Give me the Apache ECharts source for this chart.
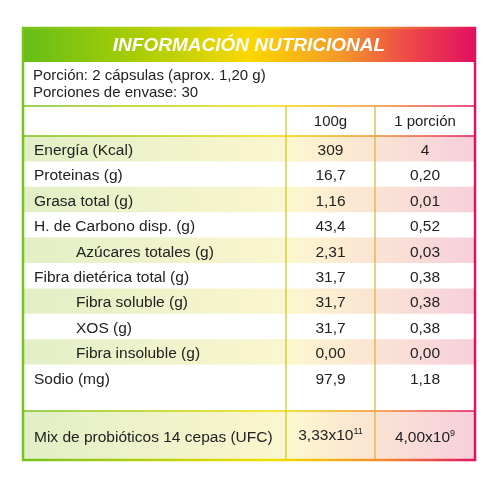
<!DOCTYPE html>
<html>
<head>
<meta charset="utf-8">
<script src="https://cdn.jsdelivr.net/npm/echarts@6/dist/echarts.min.js"></script>
<style>html,body{margin:0;padding:0;background:#fff}#main{width:500px;height:500px}</style>
</head>
<body>
<div id="main"></div>
<script>
// table data
var title = "INFORMACIÓN NUTRICIONAL";
var infoLines = ["Porción: 2 cápsulas (aprox. 1,20 g)", "Porciones de envase: 30"];
var headers = ["", "100g", "1 porción"];
var labels = ["Energía (Kcal)", "Proteinas (g)", "Grasa total (g)", "H. de Carbono disp. (g)",
  "Azúcares totales (g)", "Fibra dietérica total (g)", "Fibra soluble (g)", "XOS (g)",
  "Fibra insoluble (g)", "Sodio (mg)", "Mix de probióticos 14 cepas (UFC)"];
var per100 = ["309", "16,7", "1,16", "43,4", "2,31", "31,7", "31,7", "31,7", "0,00", "97,9", "3,33x10{s|11}"];
var perPortion = ["4", "0,20", "0,01", "0,52", "0,03", "0,38", "0,38", "0,38", "0,00", "1,18", "4,00x10{s|9}"];
var shaded = [1, 0, 1, 0, 1, 0, 1, 0, 1, 0, 1];
var indent = [0, 0, 0, 0, 1, 0, 1, 1, 1, 0, 0];

// layout (table units = px inside grid)
var W = 452, colX = [0, 263, 352, 452];
var titleH = 34, infoBottom = 78, headBottom = 108, rowH = 25.4;
function rowTop(i) {
  if (i < 10) return headBottom + i * rowH;
  return 383;
}
function rowBottom(i) {
  if (i < 9) return rowTop(i + 1);
  if (i === 9) return 383;
  return 432;
}

var G = echarts.graphic;
function hGrad(stops) { return new G.LinearGradient(23, 0, 475, 0, stops, true); }
var lineStops = [{offset: 0, color: '#78c11e'}, {offset: 0.55, color: '#f3df00'}, {offset: 0.8, color: '#f28a2e'}, {offset: 1, color: '#e4125f'}];
var shadeStops = [{offset: 0, color: '#e2efc6'}, {offset: 0.6, color: '#fcf6cf'}, {offset: 0.75, color: '#fbe6d2'}, {offset: 1, color: '#f6cfdc'}];
var titleStops = [{offset: 0, color: '#66be18'}, {offset: 0.3, color: '#b5d000'}, {offset: 0.5, color: '#fbd800'}, {offset: 0.7, color: '#f49a28'}, {offset: 0.85, color: '#ee4a48'}, {offset: 1, color: '#e30f62'}];
var font = '15.5px "Liberation Sans", Arial, sans-serif';

function renderRow(params, api) {
  var i = api.value(0);
  var p0 = api.coord([0, rowTop(i)]), p1 = api.coord([W, rowBottom(i)]);
  var ch = [];
  if (shaded[i]) {
    ch.push({type: 'rect', shape: {x: p0[0], y: p0[1], width: p1[0] - p0[0], height: p1[1] - p0[1]},
      style: {fill: hGrad(shadeStops)}});
  }
  var ty = i === 9 ? p0[1] + 15 : (p0[1] + p1[1]) / 2 + 2;
  var rich = {s: {fontSize: 9, verticalAlign: 'top', padding: [0, 0, 8, 0], fill: '#222'}};
  ch.push({type: 'text', style: {text: labels[i], x: p0[0] + 11 + (indent[i] ? 42 : 0), y: ty,
    font: font, fill: '#222', verticalAlign: 'middle'}});
  var c1 = api.coord([(colX[1] + colX[2]) / 2, 0])[0], c2 = api.coord([(colX[2] + colX[3]) / 2, 0])[0];
  ch.push({type: 'text', style: {text: per100[i], x: c1, y: i === 10 ? ty - 2 : ty, font: font, fill: '#222', align: 'center', verticalAlign: 'middle', rich: rich}});
  ch.push({type: 'text', style: {text: perPortion[i], x: c2, y: ty, font: font, fill: '#222', align: 'center', verticalAlign: 'middle', rich: rich}});
  return {type: 'group', children: ch};
}

function renderFrame(params, api) {
  var tl = api.coord([0, 0]), br = api.coord([W, 432]);
  var ch = [];
  ch.push({type: 'rect', shape: {x: tl[0], y: tl[1], width: br[0] - tl[0], height: api.coord([0, titleH])[1] - tl[1]},
    style: {fill: hGrad(titleStops)}});
  ch.push({type: 'text', style: {text: title, x: (tl[0] + br[0]) / 2, y: api.coord([0, titleH / 2])[1] + 1,
    font: 'italic bold 19px "Liberation Sans", Arial, sans-serif', fill: '#fff', align: 'center', verticalAlign: 'middle', letterSpacing: 1}});
  infoLines.forEach(function (t, k) {
    ch.push({type: 'text', style: {text: t, x: tl[0] + 10, y: api.coord([0, titleH + 14 + k * 17])[1],
      font: '15px "Liberation Sans", Arial, sans-serif', fill: '#222', verticalAlign: 'middle', letterSpacing: 0.6}});
  });
  var hy = api.coord([0, (infoBottom + headBottom) / 2])[1] + 1;
  for (var c = 1; c < 3; c++) {
    ch.push({type: 'text', style: {text: headers[c], x: api.coord([(colX[c] + colX[c + 1]) / 2, 0])[0], y: hy,
      font: '15px "Liberation Sans", Arial, sans-serif', fill: '#222', align: 'center', verticalAlign: 'middle', letterSpacing: 0.5}});
  }
  var stroke = hGrad(lineStops);
  [infoBottom, headBottom, 383].forEach(function (yv) {
    var y = api.coord([0, yv])[1];
    ch.push({type: 'line', shape: {x1: tl[0], y1: y, x2: br[0], y2: y}, style: {stroke: stroke, lineWidth: 1.5}});
  });
  var vcol = ['#c9c61a', '#d4b43a'];
  [1, 2].forEach(function (c, k) {
    var x = api.coord([colX[c], 0])[0];
    ch.push({type: 'line', shape: {x1: x, y1: api.coord([0, infoBottom])[1], x2: x, y2: br[1]}, style: {stroke: vcol[k], lineWidth: 1.2}});
  });
  ch.push({type: 'rect', shape: {x: tl[0], y: tl[1], width: br[0] - tl[0], height: br[1] - tl[1]},
    style: {fill: 'none', stroke: stroke, lineWidth: 2.5}});
  return {type: 'group', children: ch};
}

var chart = echarts.init(document.getElementById('main'));
chart.setOption({
  animation: false,
  grid: {left: 23, top: 28, width: 452, height: 432},
  xAxis: {type: 'value', min: 0, max: W, show: false},
  yAxis: {type: 'value', min: 0, max: 432, inverse: true, show: false},
  series: [
    {type: 'custom', renderItem: renderRow, data: labels.map(function (l, i) { return [i]; }), z: 1},
    {type: 'custom', renderItem: renderFrame, data: [[0]], z: 2}
  ]
});
</script>
</body>
</html>
